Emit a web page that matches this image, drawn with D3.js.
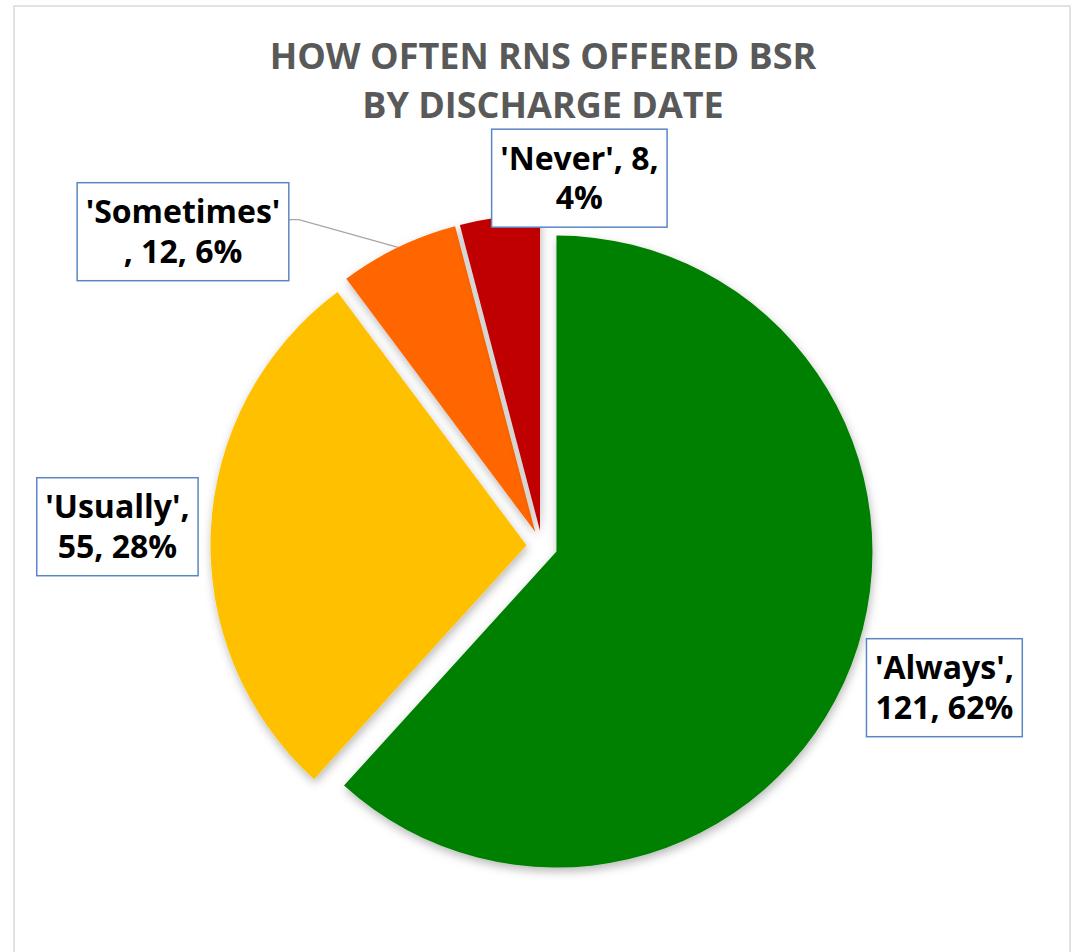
<!DOCTYPE html>
<html>
<head>
<meta charset="utf-8">
<script src="https://cdn.jsdelivr.net/npm/d3@7"></script>
<style>
  html, body { margin: 0; padding: 0; background: #fff; }
  svg { display: block; }
</style>
</head>
<body>
<svg id="chart" width="1074" height="952"></svg>
<script>
// Survey answers: how often BSR was offered
const categories = ["Always", "Usually", "Sometimes", "Never"];
const counts = [121, 55, 12, 8];
const sliceColors = ["#008000", "#FFC000", "#FF6600", "#C00000"];
const titleLines = ["HOW OFTEN RNS OFFERED BSR", "BY DISCHARGE DATE"];

// Label layout: direction (degrees clockwise from 12 o'clock), distance as a
// multiple of the radius, and where each label text wraps onto its second line.
const labelAngle = [109.4, 272.6, 311.2, 5.8];
const labelDist = [1.35, 1.345, 1.51, 1.17];
const labelBreak = [9, 10, 11, 11];
const labelLeader = [false, false, true, false];

const svg = d3.select("#chart");
const cx = 542, cy = 546, R = 316, explode = 15.5;

// chart frame
svg.append("rect")
  .attr("x", 14).attr("y", 6)
  .attr("width", 1056).attr("height", 980)
  .attr("fill", "#fff")
  .attr("stroke", "#d9d9d9").attr("stroke-width", 1.5);

// soft shadow under slices
const defs = svg.append("defs");
const f = defs.append("filter").attr("id", "shadow")
  .attr("x", "-20%").attr("y", "-20%").attr("width", "140%").attr("height", "140%");
f.append("feDropShadow")
  .attr("dx", 1).attr("dy", 4).attr("stdDeviation", 5)
  .attr("flood-color", "#000").attr("flood-opacity", 0.28);

// title
svg.append("g").selectAll("text")
  .data(titleLines)
  .join("text")
  .attr("x", cx + 1)
  .attr("y", (d, i) => 69 + i * 49)
  .attr("text-anchor", "middle")
  .attr("font-family", "'Open Sans', sans-serif")
  .attr("font-weight", 700)
  .attr("font-size", 36)
  .attr("fill", "#595959")
  .text(d => d);

const total = d3.sum(counts);
const rows = categories.map((c, i) => ({ name: c, value: counts[i], color: sliceColors[i], i }));

const pie = d3.pie().value(d => d.value).sort(null).startAngle(0).endAngle(2 * Math.PI);
const arcs = pie(rows);
const arc = d3.arc().innerRadius(0).outerRadius(R);

const pieG = svg.append("g").attr("transform", `translate(${cx},${cy})`);

pieG.selectAll("path")
  .data(arcs)
  .join("path")
  .attr("transform", d => {
    const a = (d.startAngle + d.endAngle) / 2;
    return `translate(${explode * Math.sin(a)},${-explode * Math.cos(a)})`;
  })
  .attr("d", arc)
  .attr("fill", d => d.data.color)
  .attr("filter", "url(#shadow)");

// data labels
const lineGap = 39.5;
const padX = 8.5, padY = 9.5;
const labelG = svg.append("g");

arcs.forEach(d => {
  const i = d.data.i;
  const pct = Math.round(d.data.value / total * 100);
  const full = `'${d.data.name}', ${d.data.value}, ${pct}%`;
  const lines = [full.slice(0, labelBreak[i]).trim(), full.slice(labelBreak[i]).trim()];
  const a = labelAngle[i] * Math.PI / 180;
  const lx = cx + labelDist[i] * R * Math.sin(a);
  const ly = cy - labelDist[i] * R * Math.cos(a);

  const g = labelG.append("g");
  const box = g.append("rect");
  const texts = g.selectAll("text")
    .data(lines)
    .join("text")
    .attr("x", lx)
    .attr("y", (t, k) => ly + (k - (lines.length - 1) / 2) * lineGap)
    .attr("dy", "0.36em")
    .attr("text-anchor", "middle")
    .attr("font-family", "'Open Sans', sans-serif")
    .attr("font-weight", 700)
    .attr("font-size", 32)
    .attr("fill", "#000")
    .text(t => t);

  let maxW = 0;
  texts.each(function () { maxW = Math.max(maxW, this.getComputedTextLength()); });
  const bw = maxW + 2 * padX;
  const bh = lines.length * lineGap + 2 * padY;
  box.attr("x", lx - bw / 2).attr("y", ly - bh / 2)
    .attr("width", bw).attr("height", bh)
    .attr("fill", "#fff")
    .attr("stroke", "#5B86C5").attr("stroke-width", 1.5);

  if (labelLeader[i]) {
    const m = (d.startAngle + d.endAngle) / 2;
    const ox = cx + explode * Math.sin(m) + R * Math.sin(m);
    const oy = cy - explode * Math.cos(m) - R * Math.cos(m);
    const bx = lx + bw / 2;
    const by = ly - 12;
    labelG.insert("path", ":first-child")
      .attr("d", d3.line()([[ox, oy], [bx + 10, by], [bx, by]]))
      .attr("fill", "none")
      .attr("stroke", "#a6a6a6")
      .attr("stroke-width", 1.3);
  }
});
</script>
</body>
</html>
